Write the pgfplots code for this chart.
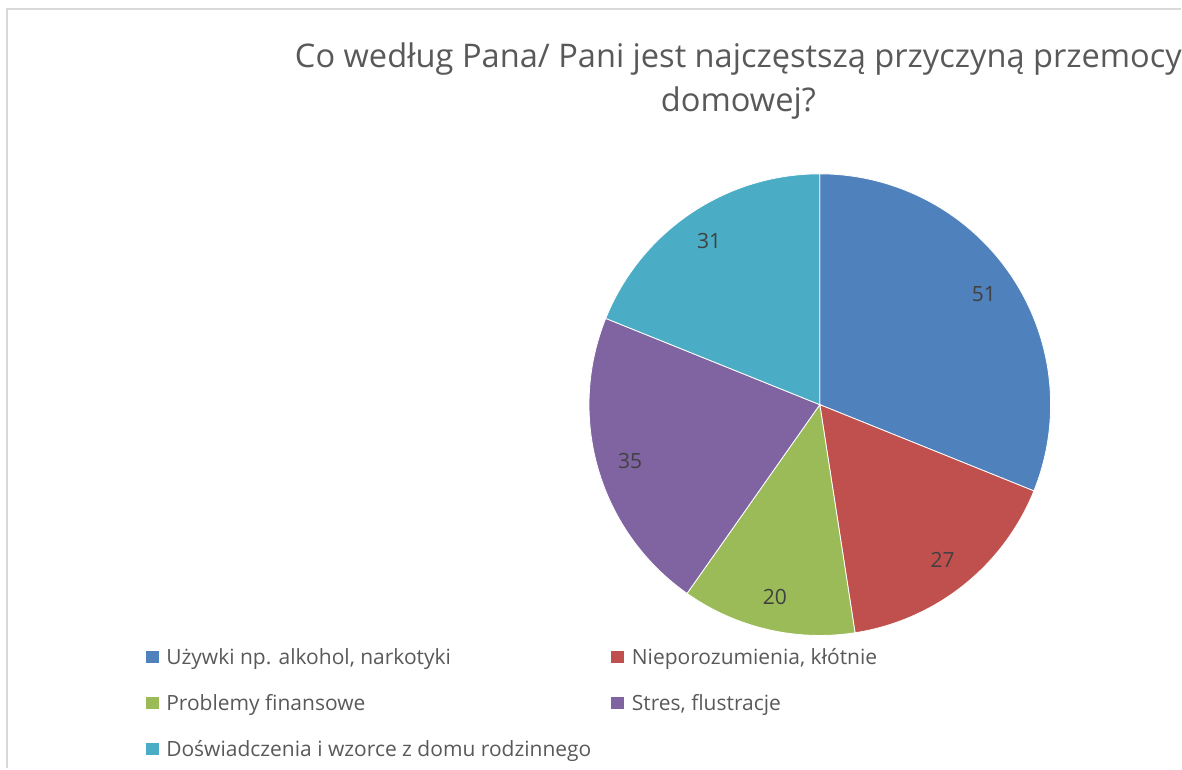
\documentclass[border=0pt]{standalone}
\usepackage{pgfplots}
\pgfplotsset{compat=1.18}
\usepackage{fontspec}
\setmainfont{Open Sans}
\definecolor{cA}{HTML}{4F81BD}
\definecolor{cB}{HTML}{C0504D}
\definecolor{cC}{HTML}{9BBB59}
\definecolor{cD}{HTML}{8064A2}
\definecolor{cE}{HTML}{4BACC6}
\definecolor{txt}{HTML}{595959}
\definecolor{lab}{HTML}{404040}
\definecolor{brd}{HTML}{D9D9D9}
% data
\def\valA{51}
\def\valB{27}
\def\valC{20}
\def\valD{35}
\def\valE{31}
\pgfmathsetmacro\tot{\valA+\valB+\valC+\valD+\valE}
\pgfmathsetmacro\aA{90}
\pgfmathsetmacro\aB{\aA-\valA/\tot*360}
\pgfmathsetmacro\aC{\aB-\valB/\tot*360}
\pgfmathsetmacro\aD{\aC-\valC/\tot*360}
\pgfmathsetmacro\aE{\aD-\valD/\tot*360}
\pgfmathsetmacro\aF{\aE-\valE/\tot*360}
\def\cx{820.5}
\def\cy{364}
\def\R{231}
\def\RL{198}
\def\lfont{\fontsize{10.5pt}{13pt}\selectfont}
\def\tfont{\fontsize{16.3pt}{19pt}\selectfont}
\begin{document}
\begin{tikzpicture}
\begin{axis}[width=591pt, height=384.5pt, scale only axis,
  xmin=0, xmax=1182, ymin=0, ymax=769, axis lines=none, clip=false]
\draw[brd, line width=1pt] (axis cs:7,0) -- (axis cs:7,759.5) -- (axis cs:1182,759.5);
\addplot[fill=cA, draw=white, line width=0.4pt, domain=\aB:\aA, samples=150, variable=\t]
  ({\cx+\R*cos(\t)},{\cy+\R*sin(\t)}) -- (axis cs:\cx,\cy) -- cycle;
\addplot[fill=cB, draw=white, line width=0.4pt, domain=\aC:\aB, samples=100, variable=\t]
  ({\cx+\R*cos(\t)},{\cy+\R*sin(\t)}) -- (axis cs:\cx,\cy) -- cycle;
\addplot[fill=cC, draw=white, line width=0.4pt, domain=\aD:\aC, samples=100, variable=\t]
  ({\cx+\R*cos(\t)},{\cy+\R*sin(\t)}) -- (axis cs:\cx,\cy) -- cycle;
\addplot[fill=cD, draw=white, line width=0.4pt, domain=\aE:\aD, samples=100, variable=\t]
  ({\cx+\R*cos(\t)},{\cy+\R*sin(\t)}) -- (axis cs:\cx,\cy) -- cycle;
\addplot[fill=cE, draw=white, line width=0.4pt, domain=\aF:\aE, samples=100, variable=\t]
  ({\cx+\R*cos(\t)},{\cy+\R*sin(\t)}) -- (axis cs:\cx,\cy) -- cycle;
% data labels
\pgfmathsetmacro\mA{(\aA+\aB)/2}
\pgfmathsetmacro\mB{(\aB+\aC)/2}
\pgfmathsetmacro\mC{(\aC+\aD)/2}
\pgfmathsetmacro\mD{(\aD+\aE)/2}
\pgfmathsetmacro\mE{(\aE+\aF)/2}
\node[text=lab, font=\lfont] at (axis cs:{\cx+\RL*cos(\mA)},{\cy+\RL*sin(\mA)}) {\valA};
\node[text=lab, font=\lfont] at (axis cs:{\cx+\RL*cos(\mB)},{\cy+\RL*sin(\mB)}) {\valB};
\node[text=lab, font=\lfont] at (axis cs:{\cx+\RL*cos(\mC)},{\cy+\RL*sin(\mC)}) {\valC};
\node[text=lab, font=\lfont] at (axis cs:{\cx+\RL*cos(\mD)},{\cy+\RL*sin(\mD)}) {\valD};
\node[text=lab, font=\lfont] at (axis cs:{\cx+\RL*cos(\mE)},{\cy+\RL*sin(\mE)}) {\valE};
% title
\node[text=txt, anchor=base, font=\tfont, inner sep=0pt] at (axis cs:739,701) {Co według Pana/ Pani jest najczęstszą przyczyną przemocy};
\node[text=txt, anchor=base, font=\tfont, inner sep=0pt] at (axis cs:739,657) {domowej?};
% legend
\fill[cA] (axis cs:146,105) rectangle (axis cs:159,117.5);
\node[text=txt, anchor=base west, inner sep=0pt, font=\lfont] at (axis cs:166,103.5) {Używki np. alkohol, narkotyki};
\fill[cB] (axis cs:612,105) rectangle (axis cs:625,117.5);
\node[text=txt, anchor=base west, inner sep=0pt, font=\lfont] at (axis cs:632,103.5) {Nieporozumienia, kłótnie};
\fill[cC] (axis cs:146,59) rectangle (axis cs:159,71.5);
\node[text=txt, anchor=base west, inner sep=0pt, font=\lfont] at (axis cs:166,57.5) {Problemy finansowe};
\fill[cD] (axis cs:612,59) rectangle (axis cs:625,71.5);
\node[text=txt, anchor=base west, inner sep=0pt, font=\lfont] at (axis cs:632,57.5) {Stres, flustracje};
\fill[cE] (axis cs:146,13) rectangle (axis cs:159,25.5);
\node[text=txt, anchor=base west, inner sep=0pt, font=\lfont] at (axis cs:166,11.5) {Doświadczenia i wzorce z domu rodzinnego};
\end{axis}
\path[use as bounding box] (current axis.south west) rectangle (current axis.north east);
\end{tikzpicture}
\end{document}
